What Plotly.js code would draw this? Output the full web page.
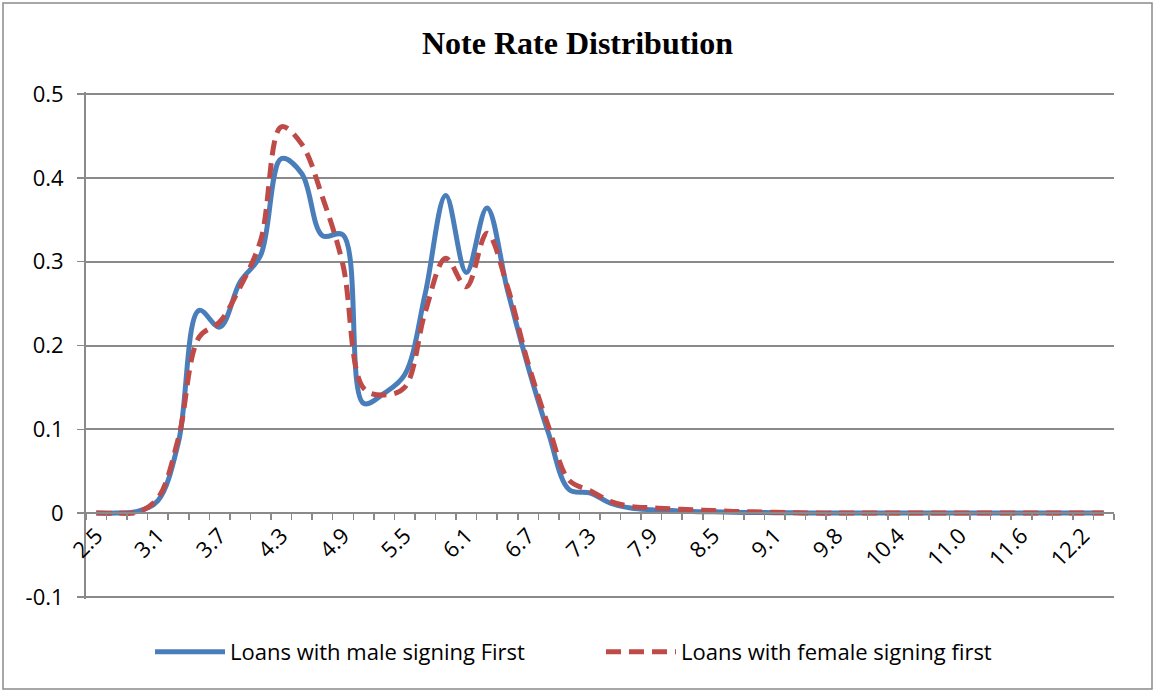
<!DOCTYPE html>
<html>
<head>
<meta charset="utf-8">
<script src="https://cdn.plot.ly/plotly-3.0.1.min.js"></script>
<style>
  html, body { margin: 0; padding: 0; background: #ffffff; }
  #chart { width: 1155px; height: 692px; }
</style>
</head>
<body>
<div id="chart"></div>
<script>
// Category axis: note rates (%)
const noteRates = ["2.5","2.7","2.9","3.1","3.3","3.5","3.7","3.9","4.1","4.3",
  "4.5","4.7","4.9","5.1","5.3","5.5","5.7","5.9","6.1","6.3",
  "6.5","6.7","6.9","7.1","7.3","7.5","7.7","7.9","8.1","8.3",
  "8.5","8.7","8.9","9.1","9.3","9.6","9.8","10.0","10.2","10.4",
  "10.6","10.8","11.0","11.2","11.4","11.6","11.8","12.0","12.2","12.4"];

// Labels shown on the x axis
const shownRateLabels = ["2.5","3.1","3.7","4.3","4.9","5.5","6.1","6.7","7.3","7.9",
  "8.5","9.1","9.8","10.4","11.0","11.6","12.2"];

// Density: loans with male signing first
const maleFirst = [0, 0, 0.002, 0.015, 0.085, 0.242, 0.222, 0.276, 0.308, 0.423,
  0.405, 0.331, 0.332, 0.131, 0.143, 0.165, 0.262, 0.379, 0.287, 0.364,
  0.266, 0.175, 0.095, 0.028, 0.024, 0.012, 0.006, 0.004, 0.003, 0.002,
  0.0015, 0.001, 0.0007, 0.0005, 0.0003, 0, 0, 0, 0, 0,
  0, 0, 0, 0, 0, 0, 0, 0, 0, 0];

// Density: loans with female signing first
const femaleFirst = [0, 0, 0.001, 0.018, 0.09, 0.210, 0.228, 0.270, 0.326, 0.461,
  0.440, 0.377, 0.296, 0.149, 0.141, 0.150, 0.240, 0.304, 0.270, 0.334,
  0.270, 0.179, 0.103, 0.039, 0.027, 0.014, 0.008, 0.0063, 0.005, 0.004,
  0.003, 0.002, 0.0015, 0.001, 0.0005, 0, 0, 0, 0, 0,
  0, 0, 0, 0, 0, 0, 0, 0, 0, 0];

// Y axis ticks
const yTickValues = [-0.1, 0, 0.1, 0.2, 0.3, 0.4, 0.5];
const yTickLabels = ["-0.1", "0", "0.1", "0.2", "0.3", "0.4", "0.5"];

const seriesNames = ["Loans with male signing First", "Loans with female signing first"];

const gray = "#8a8a8a";
const textFont = "'Open Sans', Lato, sans-serif";

// y range padded slightly so the 0.5 and -0.1 gridlines are drawn
const yRange = [-0.1025, 0.5025];

const traces = [
  {
    x: noteRates, y: maleFirst, name: seriesNames[0],
    type: "scatter", mode: "lines",
    line: { color: "#4A7EBB", width: 5, shape: "spline", smoothing: 1 }
  },
  {
    x: noteRates, y: femaleFirst, name: seriesNames[1],
    type: "scatter", mode: "lines",
    line: { color: "#BE4B48", width: 5, shape: "spline", smoothing: 1, dash: "15px,8px" }
  }
];

const plotTop = 92, plotBottom = 599, plotLeft = 86, plotRight = 1114;
const plotH = plotBottom - plotTop, plotW = plotRight - plotLeft;

const layout = {
  width: 1155, height: 692,
  margin: { l: plotLeft, r: 1155 - plotRight, t: plotTop, b: 692 - plotBottom },
  paper_bgcolor: "#ffffff", plot_bgcolor: "#ffffff",
  font: { family: textFont, color: "#000000", size: 22 },
  title: {
    text: "Note Rate Distribution",
    font: { family: "'Liberation Serif', 'Times New Roman', serif", size: 32, color: "#000000", weight: "bold" },
    x: 0.5, xref: "container", xanchor: "center",
    y: 1 - 43 / 692, yref: "container", yanchor: "middle"
  },
  xaxis: {
    type: "category",
    range: [-0.5, noteRates.length - 0.5],
    anchor: "free",
    position: (0 - yRange[0]) / (yRange[1] - yRange[0]),
    tickmode: "array",
    tickvals: noteRates,
    ticktext: noteRates.map(r => shownRateLabels.includes(r) ? r : ""),
    tickson: "boundaries",
    ticks: "outside", ticklen: 6, tickcolor: gray, tickwidth: 1.5,
    tickangle: -45,
    tickfont: { family: textFont, size: 22, color: "#000000" },
    showline: true, linecolor: gray, linewidth: 2,
    showgrid: false, zeroline: false,
    fixedrange: true
  },
  yaxis: {
    range: yRange,
    tickmode: "array",
    tickvals: yTickValues,
    ticktext: yTickLabels,
    ticks: "outside", ticklen: 7, tickcolor: gray, tickwidth: 1.5,
    ticklabelstandoff: 9,
    tickfont: { family: textFont, size: 22, color: "#000000" },
    showline: true, linecolor: gray, linewidth: 2,
    showgrid: true, gridcolor: gray, gridwidth: 2,
    zeroline: false,
    fixedrange: true
  },
  showlegend: true,
  legend: {
    orientation: "h",
    x: (150 - plotLeft) / plotW, xanchor: "left",
    y: (plotBottom - 652) / plotH, yanchor: "middle",
    font: { family: textFont, size: 22, color: "#000000" },
    itemwidth: 70,
    entrywidth: 366, entrywidthmode: "pixels",
    bgcolor: "rgba(0,0,0,0)"
  },
  shapes: [
    {
      type: "rect", xref: "paper", yref: "paper", layer: "below",
      x0: (3 - plotLeft) / plotW, x1: (1152 - plotLeft) / plotW,
      y0: (plotBottom - 689) / plotH, y1: (plotBottom - 3) / plotH,
      line: { color: gray, width: 1.5 }, fillcolor: "rgba(0,0,0,0)"
    }
  ]
};

Plotly.newPlot("chart", traces, layout, { displayModeBar: false, staticPlot: true });
</script>
</body>
</html>
